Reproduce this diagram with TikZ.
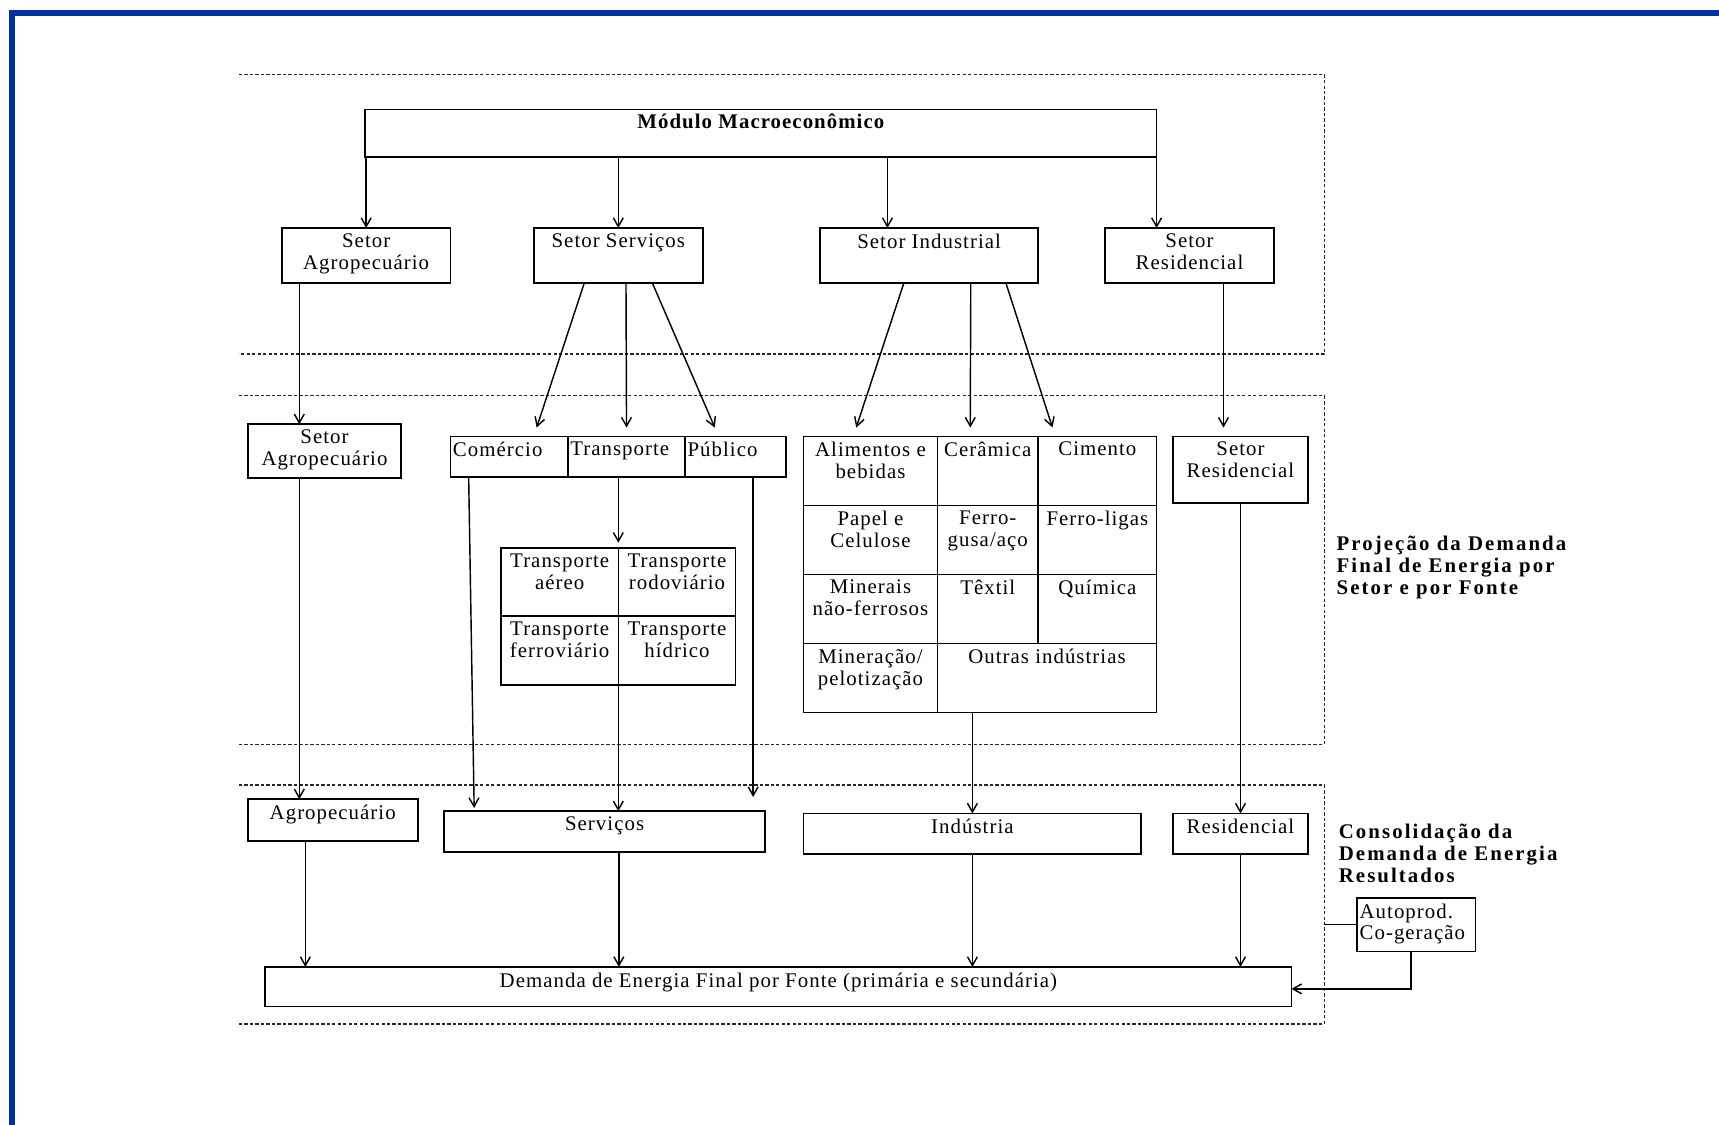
\documentclass[tikz,border=0pt]{standalone}
\usepackage{fontspec}
\setmainfont{Liberation Serif}[LetterSpace=5]
\usetikzlibrary{arrows.meta,positioning}
\definecolor{frameblue}{RGB}{0,51,160}
\newcommand{\boxfont}{\fontsize{19}{20}\selectfont}

\tikzset{
  box/.style={draw, line width=1.5pt, inner sep=0pt, outer sep=0pt, anchor=north west},
  capt/.style={label={[anchor=north, align=center, inner sep=0pt, yshift=-5pt]north:#1}},
  captl/.style={label={[anchor=north west, align=left, inner sep=0pt, xshift=2pt, yshift=-5pt]north west:#1}},
  panel/.style={line width=1.2pt, black!85, dash pattern=on 3pt off 2pt},
  arr/.style={->, line width=1.3pt},
  note/.style={anchor=base west, align=left, inner sep=0pt,
               font=\boxfont\bfseries\addfontfeature{LetterSpace=10}}
}

\begin{document}
\begin{tikzpicture}[x=1pt, y=-1pt, >={Straight Barb[length=8pt,width=9pt]},
                    font=\boxfont]
\useasboundingbox (0,0) rectangle (1568,1026);

% frame
\fill[frameblue] (8,9) rectangle (1568,15);
\fill[frameblue] (8,9) rectangle (14,1026);

% dashed panels
\draw[panel] (218,68) -- (1208,68) -- (1208,323) -- (218,323);
\draw[panel] (218,361) -- (1208,361) -- (1208,679) -- (218,679);
\draw[panel] (218,716) -- (1208,716) -- (1208,934) -- (218,934);
\coordinate (p3) at (1208,716);

% top level
\node[box, minimum width=722, minimum height=43,
      label={[anchor=north, inner sep=0pt, yshift=-4pt, font=\boxfont\bfseries]north:Módulo Macroeconômico}] (mod) at (333,100) {};
\node[box, minimum width=154, minimum height=50, capt={Setor\\Agropecuário}] (sa1) at (257,208) {};
\node[box, minimum width=154, minimum height=50, capt={Setor Serviços}] (ss1) at (487,208) {};
\node[box, minimum width=199, minimum height=50, capt={Setor Industrial}] (si1) at (748,208) {};
\node[box, minimum width=154, minimum height=50, capt={Setor\\Residencial}] (sr1) at (1008,208) {};

% projection panel
\node[box, minimum width=140, minimum height=49, capt={Setor\\Agropecuário}] (sa2) at (226,387) {};

\node[box, minimum width=107, minimum height=37, captl=Comércio] (com) at (411,398) {};
\node[box, minimum width=107, minimum height=37, captl=Transporte, right=0pt of com] (tra) {};
\node[box, minimum width=92, minimum height=37, captl=Público, right=0pt of tra] (pub) {};

\node[box, minimum width=107, minimum height=62, capt={Transporte\\aéreo}] (ta) at (457,500) {};
\node[box, minimum width=107, minimum height=62, capt={Transporte\\rodoviário}, right=0pt of ta] (tr) {};
\node[box, minimum width=107, minimum height=63, capt={Transporte\\ferroviário}, below=0pt of ta] (tf) {};
\node[box, minimum width=107, minimum height=63, capt={Transporte\\hídrico}, right=0pt of tf] (th) {};

\node[box, minimum width=122, minimum height=63, capt={Alimentos e\\bebidas}] (ali) at (733,398) {};
\node[box, minimum width=92, minimum height=63, capt={Cerâmica}, right=0pt of ali] (cer) {};
\node[box, minimum width=108, minimum height=63, capt={Cimento}, right=0pt of cer] (cim) {};
\node[box, minimum width=122, minimum height=63, capt={Papel e\\Celulose}, below=0pt of ali] (pap) {};
\node[box, minimum width=92, minimum height=63, capt={Ferro-\\gusa/aço}, right=0pt of pap] (fgu) {};
\node[box, minimum width=108, minimum height=63, capt={Ferro-ligas}, right=0pt of fgu] (fli) {};
\node[box, minimum width=122, minimum height=63, capt={Minerais\\não-ferrosos}, below=0pt of pap] (mnf) {};
\node[box, minimum width=92, minimum height=63, capt={Têxtil}, right=0pt of mnf] (tex) {};
\node[box, minimum width=108, minimum height=63, capt={Química}, right=0pt of tex] (qui) {};
\node[box, minimum width=122, minimum height=63, capt={Mineração/\\pelotização}, below=0pt of mnf] (mpe) {};
\node[box, minimum width=200, minimum height=63, capt={Outras indústrias}, right=0pt of mpe] (out) {};

\node[box, minimum width=123, minimum height=61, capt={Setor\\Residencial}] (sr2) at (1070,398) {};

% consolidation panel
\node[box, minimum width=155, minimum height=38, capt={Agropecuário}] (ag3) at (226,729) {};
\node[box, minimum width=293, minimum height=37, capt={Serviços}] (se3) at (405,740) {};
\node[box, minimum width=308, minimum height=37, capt={Indústria}] (in3) at (733,742) {};
\node[box, minimum width=123, minimum height=37, capt={Residencial}] (re3) at (1070,742) {};
\node[box, minimum width=936, minimum height=36,
      capt={Demanda de Energia Final por Fonte (primária e secundária)}] (dem) at (242,882) {};
\node[box, minimum width=108, minimum height=49, captl={Autoprod.\\Co-geração}] (auto) at (1238,819) {};

% panel titles
\node[note] (proj) at (1219,542) {Projeção da Demanda\\Final de Energia por\\Setor e por Fonte};
\node[note] (cons) at (1221,805) {Consolidação da\\Demanda de Energia\\Resultados};

% macro module to sectors
\draw[arr] (mod.south -| sa1) -- (sa1.north);
\draw[arr] (mod.south -| ss1) -- (ss1.north);
\draw[arr] ([xshift=-38pt]si1.north |- mod.south) -- ([xshift=-38pt]si1.north);
\draw[arr] (mod.south east) -- (mod.south east |- sr1.north);

% sectors to subsectors
\draw[arr] ([xshift=-61pt]sa1.south) -- ([xshift=-61pt]sa1.south |- sa2.north);
\draw[arr] ([xshift=-31pt]ss1.south) -- ([xshift=25pt,yshift=8pt]com.north);
\draw[arr] ([xshift=7pt]ss1.south) -- ([yshift=8pt]tra.north);
\draw[arr] ([xshift=31pt]ss1.south) -- ([xshift=-19pt,yshift=8pt]pub.north);
\draw[arr] ([xshift=-23pt]si1.south) -- ([xshift=-13pt,yshift=8pt]ali.north);
\draw[arr] ([xshift=38pt]si1.south) -- ([xshift=-16pt,yshift=8pt]cer.north);
\draw[arr] ([xshift=70pt]si1.south) -- ([xshift=-41pt,yshift=8pt]cim.north);
\draw[arr] ([xshift=31pt]sr1.south) -- ([xshift=31pt,yshift=8pt]sr1.south |- sr2.north);
\draw[arr] (ta.north east |- tra.south) -- ([yshift=5pt]ta.north east);

% subsectors to consolidation
\draw[arr] ([xshift=-23pt]sa2.south) -- ([xshift=-23pt]sa2.south |- ag3.north);
\draw[arr] ([xshift=-37pt]com.south) -- ([xshift=-119pt,yshift=3pt]se3.north);
\draw[arr] (tf.south east) -- (tf.south east |- se3.north);
\draw[arr] ([xshift=16pt]pub.south) -- ([xshift=16pt,yshift=13pt]pub.south |- se3.north);
\draw[arr] (in3 |- out.south) -- (in3.north);
\draw[arr] (sr2.south) -- (re3.north);

% to final demand
\draw[arr] ([xshift=-25pt]ag3.south) -- ([xshift=-25pt]ag3.south |- dem.north);
\draw[arr] ([xshift=13pt]se3.south) -- ([xshift=13pt]se3.south |- dem.north);
\draw[arr] (in3.south) -- (in3.south |- dem.north);
\draw[arr] (re3.south) -- (re3.south |- dem.north);
\draw[arr] ([xshift=-5pt]auto.south) |- ([yshift=-2pt]dem.east);
\draw[line width=1.3pt] (auto.west) -- (auto.west -| p3);

\end{tikzpicture}
\end{document}
